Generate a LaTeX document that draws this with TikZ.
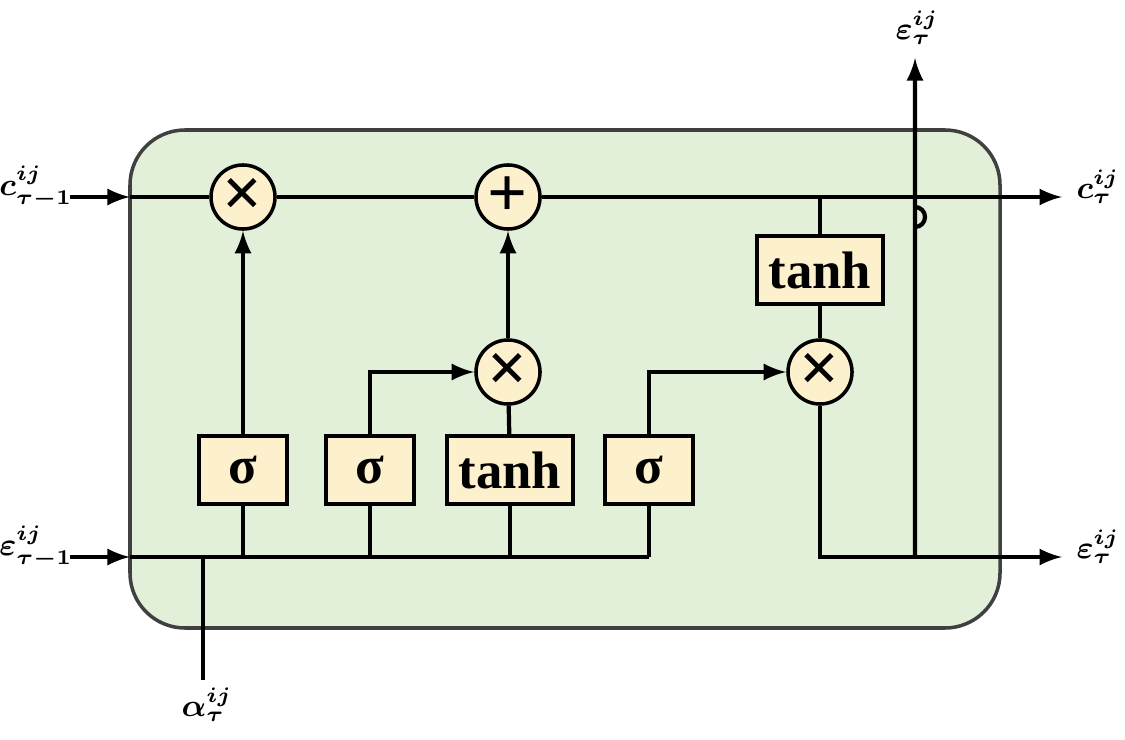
\documentclass[tikz,border=0pt]{standalone}
\usepackage{amsmath,bm}
\usepackage{fontspec}
\setmainfont{Liberation Serif}
\usetikzlibrary{positioning}
\usetikzlibrary{calc}
\definecolor{cellgreen}{HTML}{E2EFD9}
\definecolor{gatefill}{HTML}{FDF0CC}
\tikzset{
    cell/.style = {draw=black!75, line width=1pt, fill=cellgreen, rounded corners=0.55cm},
    gate/.style = {draw, line width=1pt, fill=gatefill, minimum height=0.68cm,
                   minimum width=0.88cm, font=\bfseries\fontsize{15}{15}\selectfont},
    op/.style = {draw, circle, line width=1pt, fill=gatefill, minimum size=0.64cm,
                 inner sep=0pt, font=\bfseries\fontsize{20}{20}\selectfont},
    flow/.style = {line width=1.2pt, -{latex}},
    wire/.style = {line width=1.2pt},
    lbl/.style = {font=\small, inner sep=0pt},
}
\begin{document}
\begin{tikzpicture}[x=0.01cm, y=-0.01cm]
    \useasboundingbox (0,0) rectangle (1125,740);
    \draw[cell] (130,130) rectangle (1000,628);
    % gates
    \node (s1) [gate] at (243,470) {σ};
    \node (s2) [gate] at (370,470) {σ};
    \node (t1) [gate, minimum width=1.14cm] at (510,470) {tanh};
    \node (s3) [gate] at (649,470) {σ};
    \node (t2) [gate, minimum width=1.14cm] at (820,270) {tanh};
    % pointwise operations
    \node (m1) [op] at (243,197) {×};
    \node (a1) [op] at (508,197) {+};
    \node (m2) [op] at (508,372) {×};
    \node (m3) [op] at (820,372) {×};
    % labels
    \node (cin) [lbl] at (36,187) {$\bm{c^{ij}_{\tau-1}}$};
    \node (ein) [lbl] at (36,547) {$\bm{\varepsilon^{ij}_{\tau-1}}$};
    \node (al) [lbl] at (207,705) {$\bm{\alpha^{ij}_{\tau}}$};
    \node (cout) [lbl] at (1098,187) {$\bm{c^{ij}_{\tau}}$};
    \node (eout) [lbl] at (1098,547) {$\bm{\varepsilon^{ij}_{\tau}}$};
    \node (etop) [lbl] at (917,28) {$\bm{\varepsilon^{ij}_{\tau}}$};
    \coordinate (cl) at (70,197);
    \coordinate (cb) at (130,197);
    \coordinate (el) at (70,557);
    \coordinate (eb) at (130,557);
    \coordinate (cr) at (1062,197);
    \coordinate (er) at (1062,557);
    \coordinate (ab) at (203,680);
    \coordinate (ae) at (203,557);
    \coordinate (jt) at (915,58);
    % cell state
    \draw[flow] (cl) -- (cb);
    \draw[wire] (cb) -- (m1);
    \draw[wire] (m1) -- (a1);
    \draw[flow] (a1) -- (cr);
    % hidden input
    \draw[flow] (el) -- (eb);
    \draw[wire] (eb) -- (649,557);
    \draw[wire] (ab) -- (ae);
    \foreach \g in {s1,s2,t1,s3}
        \draw[wire] (\g.south) -- (\g.south |- eb);
    % gate outputs
    \draw[flow] (s1) -- (m1);
    \draw[flow] (s2.north) |- (m2);
    \draw[wire] (t1) -- (m2);
    \draw[flow] (m2) -- (a1);
    \draw[flow] (s3.north) |- (m3);
    \draw[wire] (t2.north |- a1) -- (t2);
    \draw[wire] (t2) -- (m3);
    \draw[flow] (m3.south) |- (er);
    \draw[flow] (915,557) -- (915,207) arc (-90:90:10) -- (jt);
\end{tikzpicture}
\end{document}
